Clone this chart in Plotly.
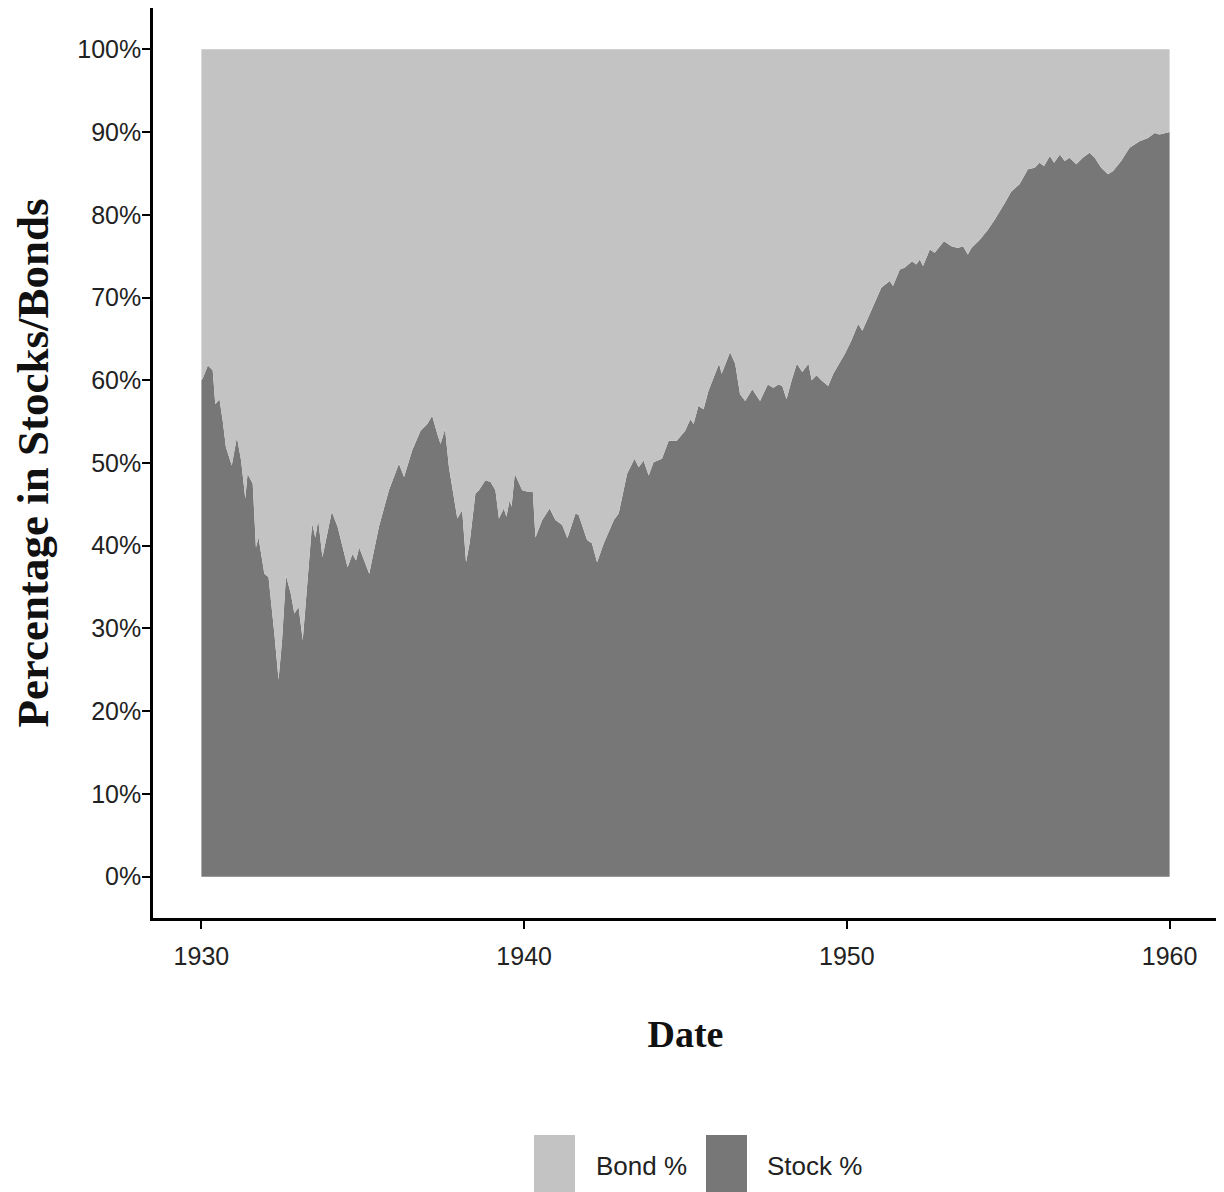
import plotly.graph_objects as go

# Date (decimal year) and percentage of portfolio in stocks
years = [1930.00, 1930.04, 1930.20, 1930.35, 1930.43, 1930.56, 1930.66, 1930.76, 1930.94,
         1931.10, 1931.23, 1931.36, 1931.43, 1931.59, 1931.69, 1931.77, 1931.95,
         1932.08, 1932.26, 1932.39, 1932.50, 1932.62, 1932.77, 1932.88,
         1933.01, 1933.14, 1933.24, 1933.43, 1933.53, 1933.62, 1933.75,
         1934.04, 1934.22, 1934.39, 1934.53, 1934.68, 1934.79, 1934.89,
         1935.20, 1935.50, 1935.81, 1936.12, 1936.28, 1936.53, 1936.79,
         1937.00, 1937.15, 1937.31, 1937.41, 1937.55, 1937.67, 1937.93,
         1938.08, 1938.20, 1938.31, 1938.49, 1938.60, 1938.80, 1938.96,
         1939.11, 1939.22, 1939.37, 1939.45, 1939.55, 1939.61, 1939.71, 1939.84, 1939.94,
         1940.15, 1940.27, 1940.35, 1940.56, 1940.79, 1940.97,
         1941.18, 1941.34, 1941.59, 1941.69, 1941.95,
         1942.10, 1942.26, 1942.47, 1942.78, 1942.93,
         1943.19, 1943.42, 1943.55, 1943.70, 1943.86,
         1944.01, 1944.27, 1944.48, 1944.73, 1944.99,
         1945.15, 1945.25, 1945.40, 1945.56, 1945.71, 1945.92,
         1946.04, 1946.12, 1946.38, 1946.54, 1946.69, 1946.85,
         1947.07, 1947.31, 1947.55, 1947.72, 1947.88,
         1948.00, 1948.13, 1948.29, 1948.45, 1948.62, 1948.81, 1948.91,
         1949.06, 1949.21, 1949.42, 1949.58, 1949.94,
         1950.14, 1950.35, 1950.48, 1950.76,
         1951.07, 1951.33, 1951.43, 1951.64, 1951.79,
         1952.02, 1952.15, 1952.26, 1952.36, 1952.57, 1952.72,
         1953.01, 1953.24, 1953.44, 1953.60, 1953.75, 1953.86,
         1954.12, 1954.37, 1954.58, 1954.76, 1954.89,
         1955.09, 1955.35, 1955.61, 1955.82, 1955.97,
         1956.11, 1956.29, 1956.42, 1956.60, 1956.75, 1956.90,
         1957.11, 1957.31, 1957.52, 1957.68, 1957.88,
         1958.09, 1958.25, 1958.50, 1958.76,
         1959.07, 1959.33, 1959.54, 1959.69, 1960.00]

stock_pct = [60.0, 60.2, 61.8, 61.2, 57.1, 57.7, 55.1, 51.9, 49.7,
             53.1, 50.3, 45.7, 48.7, 47.5, 39.8, 41.0, 36.6,
             36.2, 29.4, 23.8, 28.6, 36.4, 34.2, 31.8,
             32.6, 28.6, 33.4, 42.7, 41.0, 43.1, 38.6,
             44.1, 42.3, 39.8, 37.4, 39.0, 38.2, 39.8,
             36.6, 42.3, 46.7, 49.9, 48.3, 51.5, 53.9,
             54.7, 55.7, 53.5, 52.3, 54.1, 49.5, 43.3,
             44.3, 38.0, 40.3, 46.3, 46.7, 47.9, 47.7,
             46.7, 43.3, 44.5, 43.5, 45.5, 44.7, 48.7, 47.5, 46.7,
             46.5, 46.5, 41.0, 43.1, 44.5, 43.1,
             42.5, 40.9, 43.9, 43.7, 40.7,
             40.3, 38.0, 40.3, 43.1, 43.9,
             48.7, 50.5, 49.5, 50.3, 48.5,
             50.1, 50.5, 52.7, 52.7, 53.9,
             55.3, 54.7, 56.9, 56.5, 58.7, 60.8,
             62.0, 60.8, 63.4, 62.0, 58.3, 57.5,
             58.9, 57.5, 59.5, 59.1, 59.5,
             59.3, 57.7, 60.0, 62.0, 61.0, 62.0, 60.0,
             60.6, 60.0, 59.3, 60.8, 63.2,
             64.8, 66.8, 66.0, 68.4,
             71.2, 72.0, 71.4, 73.4, 73.6,
             74.4, 74.0, 74.6, 73.8, 75.8, 75.4,
             76.8, 76.2, 76.0, 76.2, 75.2, 76.0,
             77.0, 78.2, 79.4, 80.5, 81.4,
             82.8, 83.7, 85.5, 85.7, 86.3,
             85.9, 87.1, 86.3, 87.3, 86.5, 86.9,
             86.1, 86.9, 87.5, 86.9, 85.7,
             84.9, 85.3, 86.5, 88.1,
             88.9, 89.3, 89.9, 89.7, 90.0]

# Bond share is the remainder of the portfolio
bond_pct = [round(100.0 - s, 1) for s in stock_pct]

x_ticks = [1930, 1940, 1950, 1960]
y_ticks = [0, 10, 20, 30, 40, 50, 60, 70, 80, 90, 100]
y_tick_labels = [f"{v}%" for v in y_ticks]

series_names = ["Bond %", "Stock %"]
BOND_COLOR = "#c3c3c3"
STOCK_COLOR = "#777777"

fig = go.Figure()
fig.add_trace(go.Scatter(x=years, y=stock_pct, name=series_names[1], mode="lines",
                         stackgroup="one", line=dict(width=0, color=STOCK_COLOR),
                         fillcolor=STOCK_COLOR, showlegend=False))
fig.add_trace(go.Scatter(x=years, y=bond_pct, name=series_names[0], mode="lines",
                         stackgroup="one", line=dict(width=0, color=BOND_COLOR),
                         fillcolor=BOND_COLOR, showlegend=False))

SANS = "Liberation Sans, Arial, sans-serif"
tick_font = dict(family=SANS, size=25, color="#222222")
serif_bold = dict(family="Liberation Serif, Times New Roman, serif", color="#111111", weight="bold")

# page body has an 8px default margin; compensate so plot area sits at x 153..1218, y 8..918
L, R, T, B = 145, 6, 0, 274
W, H = 1216, 1184

fig.update_layout(
    width=W, height=H,
    margin=dict(l=L, r=R, t=T, b=B),
    paper_bgcolor="white", plot_bgcolor="white",
    showlegend=False,
    xaxis=dict(range=[1928.5, 1961.5], tickvals=x_ticks, ticktext=[str(t) for t in x_ticks],
               showgrid=False, zeroline=False, showline=True, linecolor="black", linewidth=2.5,
               ticks="outside", ticklen=8, tickwidth=2, tickcolor="black", automargin=False,
               tickfont=tick_font, ticklabelstandoff=6,
               title=dict(text="Date", font=dict(size=38, **serif_bold), standoff=52)),
    yaxis=dict(range=[-5, 105], tickvals=y_ticks, ticktext=y_tick_labels,
               showgrid=False, zeroline=False, showline=True, linecolor="black", linewidth=2.5,
               ticks="outside", ticklen=8, tickwidth=2, tickcolor="black", automargin=False,
               tickfont=tick_font, ticklabelstandoff=-4,
               title=dict(text="Percentage in Stocks/Bonds", font=dict(size=45, **serif_bold), standoff=30)),
)

# Custom legend with large keys (as in the reference)
pw, ph = W - L - R, H - T - B
x_off, y_off = 8 + L, 8 + T
def px_to_paper_x(px):
    return (px - x_off) / pw
def px_to_paper_y(py):
    return (y_off + ph - py) / ph

legend_items = [(series_names[0], BOND_COLOR, 534, 596), (series_names[1], STOCK_COLOR, 706, 767)]
for name, col, kx, tx in legend_items:
    fig.add_shape(type="rect", xref="paper", yref="paper",
                  x0=px_to_paper_x(kx), x1=px_to_paper_x(kx + 41),
                  y0=px_to_paper_y(1135), y1=px_to_paper_y(1200),
                  fillcolor=col, line=dict(width=0), layer="above")
    fig.add_annotation(xref="paper", yref="paper", x=px_to_paper_x(tx - 2), y=px_to_paper_y(1166),
                       text=name, showarrow=False, xanchor="left", yanchor="middle",
                       font=dict(family=SANS, size=26, color="#222222"))

fig.write_html("out.html")
